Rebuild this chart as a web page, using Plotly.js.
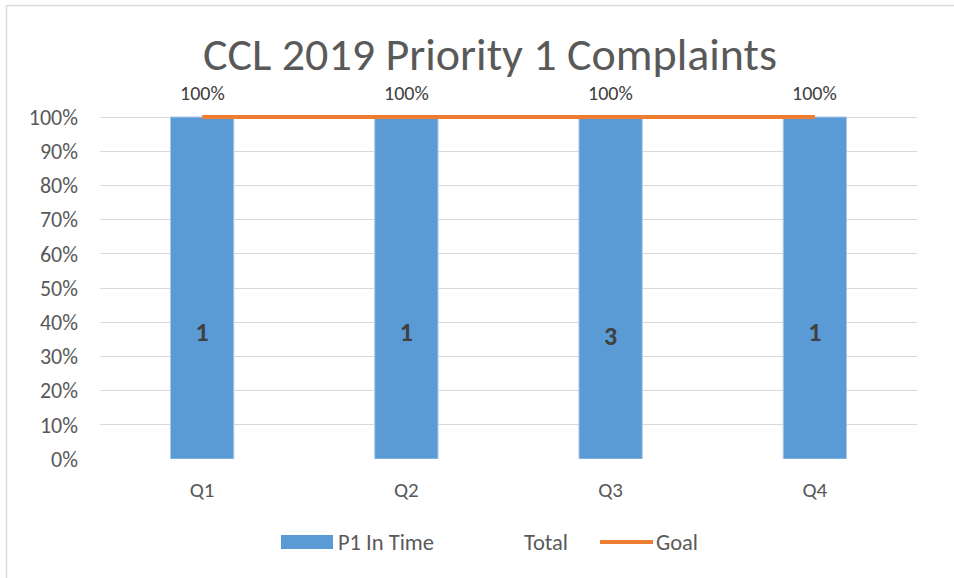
<!DOCTYPE html>
<html>
<head>
<meta charset="utf-8">
<script src="https://cdn.plot.ly/plotly-3.0.1.min.js"></script>
<style>
  html, body { margin: 0; padding: 0; background: #fff; }
  #chart { width: 954px; height: 578px; }
</style>
</head>
<body>
<div id="chart"></div>
<script>
// ---- data ----
const quarters = ['Q1', 'Q2', 'Q3', 'Q4'];
const inTime = [1, 1, 1, 1];          // P1 In Time (share, 100%)
const totals = [1, 1, 3, 1];          // Total complaints
const totalLabelY = [0.365, 0.365, 0.352, 0.365]; // where the Total labels sit
const goal = [1, 1, 1, 1];            // Goal (100%)
const yTicks = [0, 0.1, 0.2, 0.3, 0.4, 0.5, 0.6, 0.7, 0.8, 0.9, 1.0];

const FONT = 'Carlito, Calibri, Lato, "Open Sans", sans-serif';
const BLUE = '#5B9BD5';
const ORANGE = '#ED7D31';

// plot area: x 100..917, y 113..459 (a few px of headroom so the goal line is not clipped)
const TOP = 113, BOT = 459, LEFT = 100, RIGHT = 917;
const yMax = (BOT - TOP) / (BOT - 117); // 100% sits at y = 117 px

const traces = [
  {
    type: 'bar', name: 'P1 In Time', x: quarters, y: inTime,
    marker: { color: BLUE, line: { color: '#A9C9EA', width: 1 } },
    width: 0.31, hoverinfo: 'skip'
  },
  {
    type: 'scatter', mode: 'text', name: 'Total', x: quarters, y: totalLabelY,
    text: totals.map(String),
    textfont: { family: FONT, size: 26, color: '#404040', weight: 'bold' },
    textposition: 'middle center', hoverinfo: 'skip'
  },
  {
    type: 'scatter', mode: 'lines', name: 'Goal', x: quarters, y: goal,
    line: { color: ORANGE, width: 4 }, cliponaxis: false, hoverinfo: 'skip'
  }
];

const annotations = quarters.map((q, i) => ({
  x: q, y: inTime[i], xref: 'x', yref: 'y', yshift: 24,
  text: Math.round(inTime[i] * 100) + '%', showarrow: false,
  font: { family: FONT, size: 20, color: '#404040' }
}));

// custom legend in paper coords
const px = v => (v - LEFT) / (RIGHT - LEFT);
const py = v => (BOT - v) / (BOT - TOP);
const LEGFONT = { family: FONT, size: 22.5, color: '#595959' };
annotations.push(
  { xref: 'paper', yref: 'paper', x: px(336), y: py(542), xanchor: 'left', yanchor: 'middle',
    text: 'P1 In Time', showarrow: false, font: LEGFONT },
  { xref: 'paper', yref: 'paper', x: px(522), y: py(542), xanchor: 'left', yanchor: 'middle',
    text: 'Total', showarrow: false, font: LEGFONT },
  { xref: 'paper', yref: 'paper', x: px(654), y: py(542), xanchor: 'left', yanchor: 'middle',
    text: 'Goal', showarrow: false, font: LEGFONT }
);

const shapes = [
  // outer chart border (left and top only visible)
  { type: 'line', xref: 'paper', yref: 'paper', x0: px(6.5), x1: px(6.5), y0: py(5.5), y1: py(580),
    line: { color: '#D9D9D9', width: 1.5 } },
  { type: 'line', xref: 'paper', yref: 'paper', x0: px(6.5), x1: px(956), y0: py(5.5), y1: py(5.5),
    line: { color: '#D9D9D9', width: 1.5 } },
  // legend swatches
  { type: 'rect', xref: 'paper', yref: 'paper', x0: px(281), x1: px(333), y0: py(549), y1: py(535),
    fillcolor: BLUE, line: { width: 0 } },
  { type: 'line', xref: 'paper', yref: 'paper', x0: px(600), x1: px(653), y0: py(542), y1: py(542),
    line: { color: ORANGE, width: 4 } }
];

const layout = {
  width: 954, height: 578,
  margin: { l: LEFT, r: 954 - RIGHT, t: TOP, b: 578 - BOT },
  paper_bgcolor: '#fff', plot_bgcolor: '#fff',
  showlegend: false,
  title: {
    text: 'CCL 2019 Priority 1 Complaints',
    font: { family: FONT, size: 46, color: '#595959' },
    x: px(490), xanchor: 'center', y: 1 - 54 / 578, yanchor: 'middle', xref: 'paper'
  },
  xaxis: {
    type: 'category', tickfont: { family: FONT, size: 21, color: '#595959' },
    showgrid: false, zeroline: false, showline: false, ticks: '', ticklabelstandoff: 16,
    fixedrange: true
  },
  yaxis: {
    range: [0, yMax], tickvals: yTicks, tickformat: '.0%',
    tickfont: { family: FONT, size: 22, color: '#595959' },
    showgrid: true, gridcolor: '#D9D9D9', gridwidth: 1,
    zeroline: false, showline: false, ticks: '', ticklabelstandoff: 21, fixedrange: true
  },
  annotations: annotations,
  shapes: shapes
};

Plotly.newPlot('chart', traces, layout, { staticPlot: true, displayModeBar: false });
</script>
</body>
</html>
